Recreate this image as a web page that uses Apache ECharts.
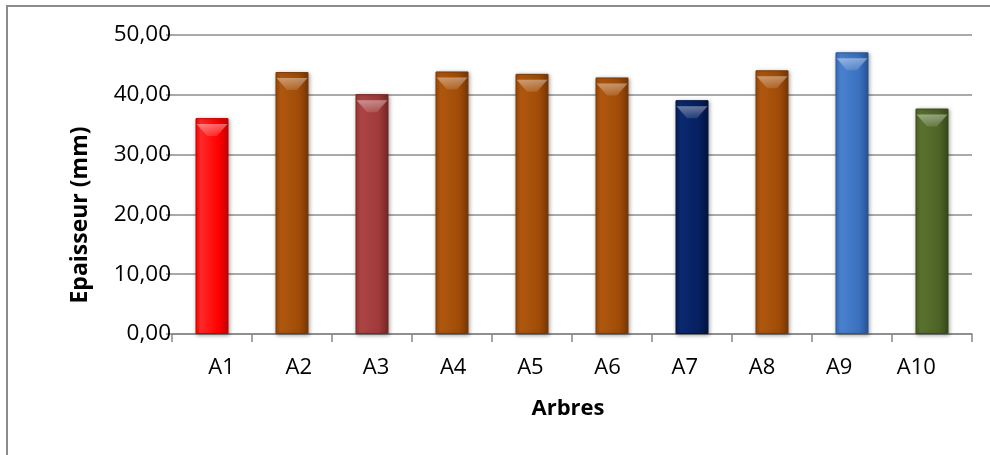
<!DOCTYPE html>
<html>
<head>
<meta charset="utf-8">
<script src="https://cdn.jsdelivr.net/npm/echarts@6/dist/echarts.min.js"></script>
<style>
html,body{margin:0;padding:0;background:#fff;}
#chart{width:990px;height:455px;}
</style>
</head>
<body>
<div id="chart"></div>
<script>
// ---- data ----
var categories = ['A1','A2','A3','A4','A5','A6','A7','A8','A9','A10'];
var values = [36.1, 43.8, 40.1, 43.9, 43.5, 42.9, 39.1, 44.1, 47.1, 37.7];
var yTicks = [0, 10, 20, 30, 40, 50];
var yTitle = 'Epaisseur (mm)';
var xTitle = 'Arbres';

// ---- styles (per-bar palette: [light, mid, dark]) ----
var palette = [
  ['#ff2a2a','#ff0000','#c80000'],
  ['#b0580f','#a04c08','#7a3804'],
  ['#ad4545','#a03a3a','#7a2626'],
  ['#b0580f','#a04c08','#7a3804'],
  ['#b0580f','#a04c08','#7a3804'],
  ['#b0580f','#a04c08','#7a3804'],
  ['#0c2a70','#062060','#031440'],
  ['#b0580f','#a04c08','#7a3804'],
  ['#4a82cf','#3a72c0','#28559a'],
  ['#5a7230','#4e6426','#384a18']
];
var FONT = '"Open Sans", "Liberation Sans", sans-serif';

function grad(c){
  return new echarts.graphic.LinearGradient(0,0,1,0,[
    {offset:0,color:c[1]},
    {offset:0.15,color:c[0]},
    {offset:0.7,color:c[1]},
    {offset:1,color:c[2]}
  ]);
}

var barData = values.map(function(v,i){
  return {value:v, itemStyle:{color:grad(palette[i]), borderColor:palette[i][2], borderWidth:1,
    shadowBlur:4, shadowColor:'rgba(0,0,0,0.35)', shadowOffsetX:1, shadowOffsetY:1}};
});

var chart = echarts.init(document.getElementById('chart'), null, {renderer:'canvas'});
var option = {
  animation:false,
  backgroundColor:'#ffffff',
  grid:[
    {left:172, right:18, top:35, bottom:121, containLabel:false},
    {left:183, right:35, top:35, bottom:121, containLabel:false}
  ],
  xAxis:[
    {type:'category', gridIndex:0, data:categories,
     axisLine:{show:true, lineStyle:{color:'#868686', width:1.5}},
     axisTick:{show:true, length:8, lineStyle:{color:'#868686', width:1.5}},
     axisLabel:{show:false}},
    {type:'category', gridIndex:1, data:categories,
     axisLine:{show:false}, axisTick:{show:false},
     axisLabel:{show:true, margin:23, color:'#000', fontFamily:FONT, fontSize:22}}
  ],
  yAxis:[
    {type:'value', gridIndex:0, min:yTicks[0], max:yTicks[yTicks.length-1], interval:10,
     axisLine:{show:false},
     axisTick:{show:true, length:6, lineStyle:{color:'#868686', width:1.5}},
     splitLine:{show:true, lineStyle:{color:'#8c8c8c', width:1.5}},
     axisLabel:{margin:1, color:'#000', fontFamily:FONT, fontSize:22.5,
       formatter:function(v){return v.toFixed(2).replace('.',',');}}},
    {type:'value', gridIndex:1, min:0, max:50, show:false}
  ],
  series:[
    {type:'bar', xAxisIndex:0, yAxisIndex:0, data:barData, barWidth:33, barGap:'-100%', z:2},
    {type:'pictorialBar', xAxisIndex:0, yAxisIndex:0, data:values, barWidth:33, barGap:'-100%',
     symbol:'path://M0,0 L10,0 L6.6,4 L3.4,4 Z', symbolSize:[31,12], symbolPosition:'end',
     symbolOffset:[0,'50%'], z:3,
     itemStyle:{color:new echarts.graphic.LinearGradient(0,0,0,1,[
       {offset:0,color:'rgba(255,255,255,0.4)'},{offset:1,color:'rgba(255,255,255,0.12)'}])}}
  ],
  graphic:[
    {type:'rect', shape:{x:7,y:6,width:1200,height:700}, style:{fill:'none', stroke:'#8c8c8c', lineWidth:2}, silent:true},
    {type:'text', x:80, y:215, rotation:Math.PI/2, style:{text:yTitle, fontFamily:FONT, fontWeight:'bold', fontSize:23, fill:'#000', align:'center', verticalAlign:'middle'}},
    {type:'text', x:568, y:409, style:{text:xTitle, fontFamily:FONT, fontWeight:'bold', fontSize:22, fill:'#000', align:'center', verticalAlign:'middle'}}
  ]
};
chart.setOption(option);
</script>
</body>
</html>
